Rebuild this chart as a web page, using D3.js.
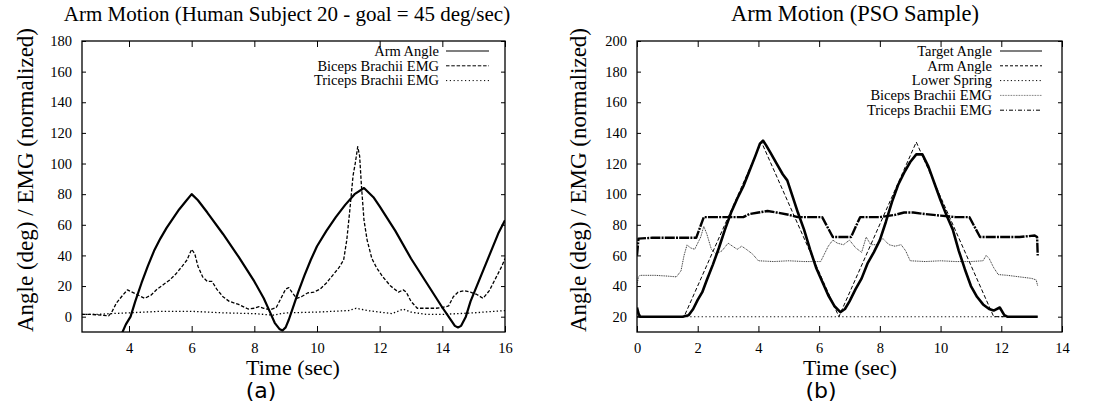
<!DOCTYPE html>
<html><head><meta charset="utf-8">
<script src="https://cdn.jsdelivr.net/npm/d3@7"></script>
<style>body{margin:0;background:#fff}svg{display:block}</style>
</head><body>
<svg id="chart" width="1099" height="406"></svg>
<script>
// ---------------- data ----------------
const leftXTicks = [4, 6, 8, 10, 12, 14, 16];
const leftYTicks = [0, 20, 40, 60, 80, 100, 120, 140, 160, 180];
const rightXTicks = [0, 2, 4, 6, 8, 10, 12, 14];
const rightYTicks = [20, 40, 60, 80, 100, 120, 140, 160, 180, 200];

const leftLegend = ["Arm Angle", "Biceps Brachii EMG", "Triceps Brachii EMG"];
const rightLegend = ["Target Angle", "Arm Angle", "Lower Spring", "Biceps Brachii EMG", "Triceps Brachii EMG"];

// (a) Human subject 20 : [time sec, value]
const leftArmAngle = [
  [3.75,-12],[3.9,-5],[4.05,0],[4.2,10],[4.4,22],[4.6,33],[4.8,43],[5.0,51],[5.2,58],[5.4,64],
  [5.6,70],[5.8,75],[6.0,80],[6.2,76],[6.5,68],[7.0,54],[7.5,39],[8.0,23],[8.3,12],[8.5,3],
  [8.65,-4],[8.8,-8],[8.9,-9],[9.0,-7],[9.1,-2],[9.2,4],[9.4,16],[9.6,27],[9.8,37],[10.0,46],
  [10.3,56],[10.6,65],[10.9,73],[11.2,80],[11.5,84],[11.8,78],[12.0,72],[12.5,56],[13.0,38],
  [13.5,22],[14.0,6],[14.2,0],[14.4,-6],[14.5,-7],[14.6,-6],[14.75,0],[14.9,10],[15.2,25],
  [15.5,40],[15.8,55],[16.0,63]
];
const leftBiceps = [
  [2.5,1.5],[2.8,1.5],[3.1,1.0],[3.35,0.5],[3.45,3],[3.6,9],[3.8,14],[3.95,17.5],[4.1,16],[4.3,14],
  [4.5,12],[4.7,14],[4.9,18],[5.1,21],[5.3,24],[5.5,28],[5.7,33],[5.85,37],[6.0,44],[6.1,41],
  [6.2,33],[6.35,26],[6.5,23],[6.65,23],[6.8,18],[7.0,13],[7.2,10],[7.5,8],[7.8,5],[8.0,5.5],
  [8.15,6.5],[8.3,5.5],[8.5,4.5],[8.7,6],[8.85,12],[9.0,18],[9.1,19],[9.2,16],[9.35,12],[9.5,13],
  [9.7,15.5],[9.9,16],[10.1,18],[10.3,22],[10.5,27],[10.7,32],[10.85,37],[10.95,50],[11.05,70],
  [11.15,92],[11.22,100],[11.3,111],[11.36,105],[11.42,85],[11.5,63],[11.6,50],[11.75,38],
  [11.9,32],[12.1,26],[12.35,20],[12.6,16],[12.75,17.5],[12.85,16],[13.0,10],[13.2,5.5],
  [13.5,5.5],[13.8,5.5],[14.0,6],[14.2,7],[14.35,13],[14.5,16],[14.7,17],[14.9,16],[15.1,14.5],
  [15.3,12],[15.5,17],[15.7,25],[15.9,33],[16.0,38]
];
const leftTriceps = [
  [2.5,1.5],[3.0,1.5],[3.4,2],[4.0,2.5],[5.0,3.5],[6.0,3.5],[7.0,2.5],[8.0,2],[8.6,1],[9.0,2.5],
  [10.0,3],[11.0,4],[11.25,5.5],[11.6,4],[12.0,3],[12.4,2],[12.75,5],[13.0,3],[13.5,1.5],
  [14.0,1.5],[15.0,2.5],[16.0,4]
];

// (b) PSO sample : [time sec, value]
const rightTargetAngle = [
  [0,26],[0.05,22],[0.1,20],[0.5,20],[1.0,20],[1.5,20],[1.7,21],[1.85,25],[2.0,31],[2.15,36],
  [2.3,44],[2.5,54],[2.7,65],[2.9,77],[3.1,88],[3.3,97],[3.5,105],[3.7,115],[3.9,125],[4.05,133],
  [4.15,135],[4.25,132],[4.4,127],[4.6,120],[4.8,113],[4.95,109],[5.1,100],[5.3,88],[5.5,77],
  [5.7,64],[5.9,52],[6.1,43],[6.3,34],[6.5,27],[6.7,23],[6.85,25],[7.0,30],[7.2,38],[7.4,45],
  [7.6,55],[7.8,62],[8.0,70],[8.2,82],[8.4,95],[8.6,106],[8.8,114],[9.0,121],[9.2,126],[9.4,126],
  [9.6,118],[9.8,107],[10.0,96],[10.2,86],[10.4,77],[10.6,63],[10.8,51],[11.0,40],[11.2,33],
  [11.4,28],[11.6,25],[11.75,24],[11.95,26],[12.1,21],[12.2,20],[12.6,20],[13.0,20],[13.2,20]
];
const rightArmAngle = [[0,20],[1.55,20],[4.1,134],[6.65,20],[9.2,134],[11.75,20],[13.2,20]];
const rightLowerSpring = [[0,20],[13.2,20]];
const rightBiceps = [
  [0,41],[0.05,46],[0.1,47],[0.6,47],[1.0,46.5],[1.3,46],[1.45,50],[1.55,60],[1.65,67],[1.75,65],
  [1.9,64],[2.0,68],[2.1,72],[2.2,79],[2.3,74],[2.45,64],[2.6,61],[2.8,63],[3.0,68],[3.15,66],
  [3.3,64],[3.45,66],[3.6,64],[3.8,61],[4.0,56.5],[4.5,56],[5.0,56.5],[5.5,56],[6.05,56],[6.15,60],
  [6.3,66],[6.45,70],[6.6,68],[6.8,67],[7.0,70],[7.2,65],[7.4,62],[7.55,72],[7.7,67],[7.9,67],
  [8.1,71],[8.3,67],[8.5,66],[8.7,67],[8.85,63],[9.0,56.5],[9.5,56],[10.0,56.5],[10.5,56],
  [11.0,56],[11.4,56.5],[11.5,60],[11.6,58],[11.75,52],[11.9,47.5],[12.2,47],[12.6,46],
  [13.0,45],[13.15,44],[13.2,40]
];
const rightTriceps = [
  [0,60],[0.05,71],[0.5,71.5],[1.0,71.5],[1.5,71.5],[1.95,71.5],[2.2,85],[2.8,85],[3.5,85],
  [3.7,87],[4.0,88],[4.3,89],[4.6,88],[5.0,86.5],[5.3,85],[6.0,85],[6.1,85],[6.45,72],[7.05,72],
  [7.35,85],[8.0,85],[8.5,86.5],[8.8,88],[9.1,88],[9.5,87],[10.0,86],[10.5,85],[10.95,85],
  [11.3,72],[12.0,72],[12.6,72],[13.1,73],[13.18,72],[13.2,60]
];

// ---------------- drawing ----------------
const svg = d3.select("#chart");
const SERIF = '"Liberation Serif","Times New Roman","DejaVu Serif",serif';

const panels = [
  {
    id: "a", left: 82, right: 505, top: 41, bottom: 332,
    xDomain: [2.5, 16], yDomain: [-10, 180], xTicks: leftXTicks, yTicks: leftYTicks,
    title: "Arm Motion (Human Subject 20 - goal = 45 deg/sec)", titleX: 287, titleSize: 21,
    yLabelX: 33, xLabelX: 293, tagX: 261, tag: "(a)",
    legend: leftLegend, legendTextX: 439, legendLine: [446, 489],
    series: [
      {data: leftArmAngle, width: 2.2, dash: null, color: "#000"},
      {data: leftBiceps, width: 1.3, dash: "3.5,1.8", color: "#000"},
      {data: leftTriceps, width: 1.3, dash: "1.4,2.2", color: "#000"}
    ],
    legendStyles: [
      {width: 1.2, dash: null, color: "#000"},
      {width: 1, dash: "3.5,1.8", color: "#000"},
      {width: 1, dash: "1.2,2.6", color: "#000"}
    ]
  },
  {
    id: "b", left: 637, right: 1062, top: 41, bottom: 332,
    xDomain: [0, 14], yDomain: [10, 200], xTicks: rightXTicks, yTicks: rightYTicks,
    title: "Arm Motion (PSO Sample)", titleX: 855, titleSize: 22.5,
    yLabelX: 586, xLabelX: 850, tagX: 821, tag: "(b)",
    legend: rightLegend, legendTextX: 992, legendLine: [1000, 1042],
    series: [
      {data: rightLowerSpring, width: 1.1, dash: "1.4,2.4", color: "#222"},
      {data: rightArmAngle, width: 1.0, dash: "4,2.2", color: "#000"},
      {data: rightBiceps, width: 1.0, dash: "1,0.8", color: "#333"},
      {data: rightTriceps, width: 2.4, dash: "10,1.2,2,1.2", color: "#000"},
      {data: rightTargetAngle, width: 2.6, dash: null, color: "#000"}
    ],
    legendStyles: [
      {width: 1.2, dash: null, color: "#000"},
      {width: 1, dash: "3,2", color: "#000"},
      {width: 1, dash: "1.2,2.4", color: "#000"},
      {width: 1, dash: "0.8,0.8", color: "#666"},
      {width: 1, dash: "4,2,1,2", color: "#000"}
    ]
  }
];

panels.forEach(p => {
  const x = d3.scaleLinear().domain(p.xDomain).range([p.left, p.right]);
  const y = d3.scaleLinear().domain(p.yDomain).range([p.bottom, p.top]);
  const g = svg.append("g");

  g.append("clipPath").attr("id", "clip-" + p.id)
    .append("rect").attr("x", p.left).attr("y", p.top)
    .attr("width", p.right - p.left).attr("height", p.bottom - p.top);

  const line = d3.line().x(d => x(d[0])).y(d => y(d[1]));
  const curves = g.append("g").attr("clip-path", `url(#clip-${p.id})`);
  p.series.forEach(s => {
    curves.append("path").datum(s.data)
      .attr("d", line).attr("fill", "none")
      .attr("stroke", s.color).attr("stroke-width", s.width)
      .attr("stroke-linejoin", "round")
      .attr("stroke-dasharray", s.dash);
  });

  // axes (ticks inward, mirrored)
  const fmt = d3.format("d");
  const bottom = g.append("g").attr("transform", `translate(0,${p.bottom})`)
    .call(d3.axisBottom(x).tickValues(p.xTicks).tickSize(-6).tickPadding(10.8).tickFormat(fmt));
  const top = g.append("g").attr("transform", `translate(0,${p.top})`)
    .call(d3.axisTop(x).tickValues(p.xTicks).tickSize(-6).tickFormat(""));
  const leftAx = g.append("g").attr("transform", `translate(${p.left},0)`)
    .call(d3.axisLeft(y).tickValues(p.yTicks).tickSize(-4).tickPadding(10).tickFormat(fmt));
  const rightAx = g.append("g").attr("transform", `translate(${p.right},0)`)
    .call(d3.axisRight(y).tickValues(p.yTicks).tickSize(-4).tickFormat(""));
  [bottom, top, leftAx, rightAx].forEach(a => {
    a.attr("font-family", null).attr("font-size", null);
    a.select(".domain").remove();
    a.selectAll(".tick line").attr("stroke", "#000").attr("stroke-width", 1);
    a.selectAll(".tick text").style("font-family", SERIF).style("font-size", "14.5px").attr("fill", "#000");
  });

  // frame
  g.append("rect").attr("x", p.left).attr("y", p.top)
    .attr("width", p.right - p.left).attr("height", p.bottom - p.top)
    .attr("fill", "none").attr("stroke", "#000").attr("stroke-width", 1.3);

  // legend
  p.legend.forEach((name, i) => {
    const ly = 51 + i * 14.8;
    g.append("text").attr("x", p.legendTextX).attr("y", ly).attr("dy", "0.33em")
      .attr("text-anchor", "end").style("font-family", SERIF).style("font-size", "14.5px")
      .attr("fill", "#000").text(name);
    const st = p.legendStyles[i];
    g.append("line").attr("x1", p.legendLine[0]).attr("x2", p.legendLine[1])
      .attr("y1", ly).attr("y2", ly).attr("stroke", st.color)
      .attr("stroke-width", st.width).attr("stroke-dasharray", st.dash);
  });

  // title
  g.append("text").attr("x", p.titleX).attr("y", 20.5).attr("text-anchor", "middle")
    .style("font-family", SERIF).style("font-size", p.titleSize + "px").attr("fill", "#000").text(p.title);
  // x label
  g.append("text").attr("x", p.xLabelX).attr("y", 375).attr("text-anchor", "middle")
    .style("font-family", SERIF).style("font-size", "22px").attr("fill", "#000").text("Time (sec)");
  // y label
  g.append("text").attr("transform", `translate(${p.yLabelX},180) rotate(-90)`)
    .attr("text-anchor", "middle").style("font-family", SERIF).style("font-size", "23px")
    .attr("fill", "#000").text("Angle (deg) / EMG (normalized)");
  // panel tag
  g.append("text").attr("x", p.tagX).attr("y", 398).attr("text-anchor", "middle")
    .style("font-family", "'DejaVu Sans',sans-serif").style("font-size", "22px")
    .attr("fill", "#000").text(p.tag);
});
</script>
</body></html>
